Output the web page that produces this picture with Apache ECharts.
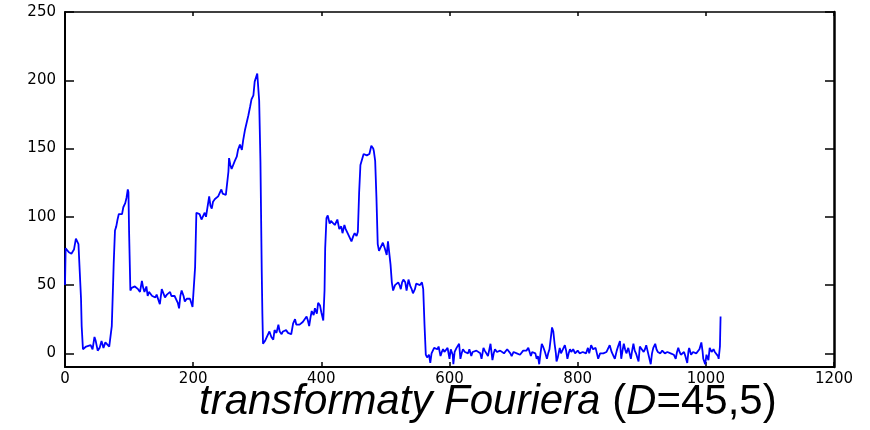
<!DOCTYPE html>
<html>
<head>
<meta charset="utf-8">
<script src="https://cdn.jsdelivr.net/npm/echarts@6/dist/echarts.min.js"></script>
<style>
  html, body { margin: 0; padding: 0; background: #fff; }
  #chart { width: 870px; height: 430px; }
</style>
</head>
<body>
<div id="chart"></div>
<script>
// tick labels
const xTicks = [0, 200, 400, 600, 800, 1000, 1200]
const yTicks = [0, 50, 100, 150, 200, 250]

// signal, [sample, value]
const signal = [
  [0,50],[1,77],[3,78],[6,74],[10,73],[14,76],[17,84],[19,85],[21,80],[23,60],[25,40],[26,20],[28,3],[31,3],[33,5],[36,4],[40,6],[43,3],[46,12],[48,9],[51,2],[54,4],[57,9],[60,4],[63,8],[66,7],[69,5],[72,6],[73,20],[75,50],[76,66],[78,90],[80,93],[82,98],[84,102],[87,103],[89,102],[91,107],[94,110],[96,114],[98,120],[99,118],[100,89],[102,46],
  [104,48],[107,47],[109,49],[112,48],[114,47],[117,45],[120,53],[122,48],[124,45],[127,49],[129,42],[131,45],[133,46],[136,42],[138,43],[141,41],[143,43],[146,44],[148,36],[151,47],[153,48],[156,41],[159,43],[162,44],[164,45],[166,42],[169,43],[171,42],[174,41],[176,37],[178,33],[180,42],[182,46],[185,42],[187,38],[190,40],[193,41],[195,40],[197,37],[199,34],[201,33],[203,63],[205,103],
  [207,104],[210,102],[213,98],[216,101],[218,103],[220,100],[222,101],[225,115],[227,108],[229,106],[231,111],[234,113],[237,114],[239,115],[242,118],[244,120],[246,117],[248,117],[251,116],[253,117],[255,133],[256,143],[258,138],[260,135],[263,134],[265,141],[268,144],[270,149],[273,153],[276,149],[278,156],[281,164],[284,164],[286,174],[289,181],[291,186],[294,189],[296,199],[298,202],[300,205],[301,204],[303,185],[305,140],[307,60],[308,29],[309,7],
  [312,9],[315,12],[317,14],[319,16],[322,12],[325,10],[327,17],[330,15],[333,21],[335,16],[338,14],[340,16],[343,17],[345,17],[348,15],[351,15],[353,14],[356,22],[359,25],[361,21],[364,22],[366,21],[369,20],[371,23],[374,25],[377,27],[379,24],[381,20],[383,26],[385,31],[388,28],[390,33],[393,29],[395,37],[398,35],[400,30],[403,24],[405,46],[406,77],[408,99],
  [410,101],[413,95],[415,97],[418,96],[421,94],[423,95],[425,98],[428,91],[431,93],[433,88],[436,94],[438,91],[441,88],[443,86],[446,86],[447,82],[450,86],[452,88],[455,86],[457,89],[459,118],[461,138],[464,139],[466,146],[469,146],[471,145],[473,146],[475,146],[478,152],[479,153],[481,150],[482,148],[484,141],[486,114],[488,80],[490,75],[492,77],[494,78],[496,81],[499,77],[502,72],[504,82],[507,82],[508,65],
  [510,52],[512,46],[515,50],[518,51],[520,52],[522,50],[524,47],[526,52],[528,54],[531,52],[533,46],[536,54],[539,49],[541,47],[543,44],[546,47],[548,51],[551,50],[554,50],[557,52],[559,47],[561,21],[563,-1],[565,-3],[568,-1],[570,-7],[572,0],[574,2],[576,4],[579,4],[581,3],[583,5],[586,-2],[588,1],[590,3],[592,1],[595,2],[597,4],[600,-4],
  [602,3],[605,-1],[606,-8],[608,1],[611,4],[613,5],[615,7],[617,-4],[619,0],[621,3],[624,1],[626,2],[629,0],[631,3],[634,-2],[636,1],[639,0],[642,2],[645,1],[648,0],[650,-4],[653,4],[655,2],[658,1],[660,-2],[662,-3],[664,7],[667,-5],[669,0],[671,3],[674,1],[676,0],[679,2],[682,2],[685,0],[687,1],[690,3],[692,3],[695,0],[697,-2],[700,1],
  [702,2],[705,0],[708,0],[710,-1],[713,-1],[715,2],[718,3],[720,2],[723,4],[725,1],[727,-2],[729,1],[731,2],[734,0],[736,-4],[738,-2],[740,-8],[742,0],[744,7],[746,5],[749,1],[752,-4],[754,0],[756,3],[758,11],[760,19],[762,16],[764,7],[766,0],[767,-6],[769,-3],[772,4],[774,0],[776,2],[778,1],[780,6],[782,2],[784,-4],[786,0],[788,3],[790,1],[793,3],[796,0],[798,-1],
  [800,2],[803,0],[805,-1],[808,1],[810,2],[813,0],[816,4],[818,0],[821,6],[824,3],[826,3],[828,4],[830,0],[832,-4],[835,0],[837,1],[840,0],[842,-1],[845,1],[847,2],[850,6],[853,1],[856,-2],[858,-4],[861,2],[863,5],[866,9],[868,-4],[870,2],[872,7],[874,3],[876,0],[879,4],[881,0],[883,-4],[885,2],[887,7],[889,2],[891,0],[893,-3],[895,-6],[897,5],
  [900,3],[903,1],[905,3],[907,6],[909,2],[911,2],[914,-8],[916,0],[918,4],[921,7],[923,3],[925,1],[927,0],[929,0],[932,2],[934,2],[936,0],[938,-1],[940,1],[942,1],[945,0],[948,0],[950,-1],[953,-4],[955,1],[957,4],[959,1],[961,-1],[963,0],[966,1],[968,-2],[971,-7],[973,2],[974,4],[977,-1],[980,1],[983,2],[985,0],[988,1],[990,3],[993,8],[995,1],[996,-4],[999,-8],
  [1001,-1],[1004,-5],[1006,4],[1009,1],[1012,3],[1014,1],[1017,1],[1019,-2],[1020,-4],[1022,5],[1023,27]
]

const myChart = echarts.init(document.getElementById('chart'))
const font = 'DejaVu Sans'
const axisLine = { show: true, onZero: false, lineStyle: { color: '#000', width: 2 } }
const plain = v => String(v)

const option = {
  animation: false,
  grid: { left: 65, right: 36, top: 12, bottom: 63 },
  title: {
    left: 194,
    top: 376,
    text: '{i|transformaty Fouriera }{n|(}{i|D}{n|=45,5)}',
    textStyle: {
      fontWeight: 'normal',
      rich: {
        i: { fontFamily: 'Liberation Sans', fontStyle: 'italic', fontWeight: 'normal', fontSize: 42, color: '#000' },
        n: { fontFamily: 'Liberation Sans', fontWeight: 'normal', fontSize: 42, color: '#000' }
      }
    }
  },
  xAxis: [
    {
      type: 'value', min: 0, max: 1200, interval: 200,
      axisLine,
      axisTick: { inside: true, length: 5, lineStyle: { color: '#000', width: 1.5 } },
      axisLabel: { fontFamily: font, fontSize: 15, color: '#000', margin: 5, customValues: xTicks, formatter: plain },
      splitLine: { show: false }
    },
    {
      type: 'value', position: 'top', min: 0, max: 1200, interval: 200,
      axisLine: { ...axisLine, lineStyle: { color: '#000', width: 1.5 } },
      axisTick: { inside: true, length: 4, lineStyle: { color: '#000', width: 1.5 } },
      axisLabel: { show: false },
      splitLine: { show: false }
    }
  ],
  yAxis: [
    {
      type: 'value', min: -10, max: 250,
      axisLine,
      axisTick: { inside: true, length: 9, customValues: yTicks, lineStyle: { color: '#000', width: 1.5 } },
      axisLabel: { fontFamily: font, fontSize: 15, color: '#000', margin: 9, customValues: yTicks, formatter: plain },
      splitLine: { show: false }
    },
    {
      type: 'value', position: 'right', min: -10, max: 250,
      axisLine: { ...axisLine, lineStyle: { color: '#000', width: 2.5 } },
      axisTick: { inside: true, length: 9, customValues: yTicks, lineStyle: { color: '#000', width: 1.5 } },
      axisLabel: { show: false },
      splitLine: { show: false }
    }
  ],
  series: [
    {
      type: 'line',
      data: signal,
      showSymbol: false,
      symbol: 'none',
      lineStyle: { color: '#0000ff', width: 1.8 }
    }
  ]
}

myChart.setOption(option)
</script>
</body>
</html>
